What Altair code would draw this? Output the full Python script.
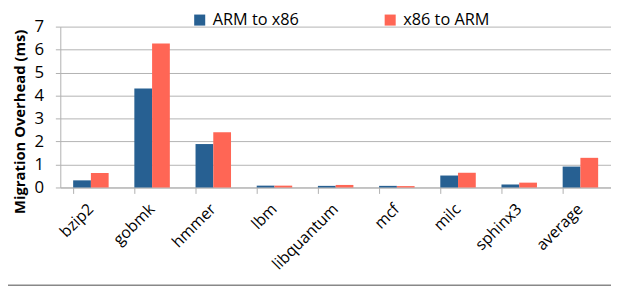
import altair as alt
import pandas as pd

benchmarks = ["bzip2", "gobmk", "hmmer", "lbm", "libquantum", "mcf", "milc", "sphinx3", "average"]
series = ["ARM to x86", "x86 to ARM"]
arm_to_x86 = [0.31, 4.31, 1.89, 0.08, 0.07, 0.07, 0.52, 0.13, 0.91]
x86_to_arm = [0.63, 6.27, 2.40, 0.08, 0.11, 0.06, 0.64, 0.21, 1.29]
colors = ["#276092", "#ff6655"]

rows = []
for b, a, x in zip(benchmarks, arm_to_x86, x86_to_arm):
    rows.append({"benchmark": b, "series": series[0], "value": a})
    rows.append({"benchmark": b, "series": series[1], "value": x})
df = pd.DataFrame(rows)

FONT = "Open Sans"
W, H = 558, 163

bars = alt.Chart(df).mark_bar().encode(
    x=alt.X("benchmark:N", sort=benchmarks, title=None,
            scale=alt.Scale(paddingInner=0.42, paddingOuter=0.21),
            axis=alt.Axis(labelAngle=-45, labelAlign="right", labelBaseline="middle",
                          labelFontSize=16, labelFont=FONT, labelColor="#000",
                          labelPadding=13, bandPosition=0, tickSize=6,
                          tickColor="#b0b0b0", domainColor="#b0b0b0", grid=False)),
    xOffset=alt.XOffset("series:N", sort=series),
    y=alt.Y("value:Q", title="Migration Overhead (ms)",
            scale=alt.Scale(domain=[0, 7]),
            axis=alt.Axis(values=[0, 1, 2, 3, 4, 5, 6, 7], format="d",
                          labelFontSize=17, labelFont=FONT, labelColor="#000",
                          tickSize=5, tickColor="#b0b0b0", labelPadding=12,
                          domainColor="#b0b0b0", gridColor="#b3b3b3",
                          titleFont=FONT, titleFontSize=15, titleFontWeight="bold",
                          titleColor="#000", titlePadding=7, titleY=96)),
    color=alt.Color("series:N", sort=series,
                    scale=alt.Scale(domain=series, range=colors),
                    legend=alt.Legend(title=None, orient="none", legendX=133, legendY=-15,
                                      direction="horizontal", symbolType="square",
                                      symbolSize=125, symbolStrokeWidth=0,
                                      labelFont=FONT, labelFontSize=16.5, labelColor="#000",
                                      columnPadding=84, labelOffset=5)),
)

line_df = pd.DataFrame({"v": [0]})
bottom = alt.Chart(line_df).mark_rule(color="#888888", strokeWidth=1.5).encode(
    x=alt.value(-53), x2=alt.value(W), y=alt.value(262)
)

chart = alt.layer(bars, bottom).properties(
    width=W, height=H,
    autosize=alt.AutoSizeParams(type="none"),
    padding={"left": 53, "top": 17, "right": 0, "bottom": 100},
    background="white",
).configure_view(stroke=None)

chart.save("out.html", embed_options={"renderer": "svg", "actions": False})
